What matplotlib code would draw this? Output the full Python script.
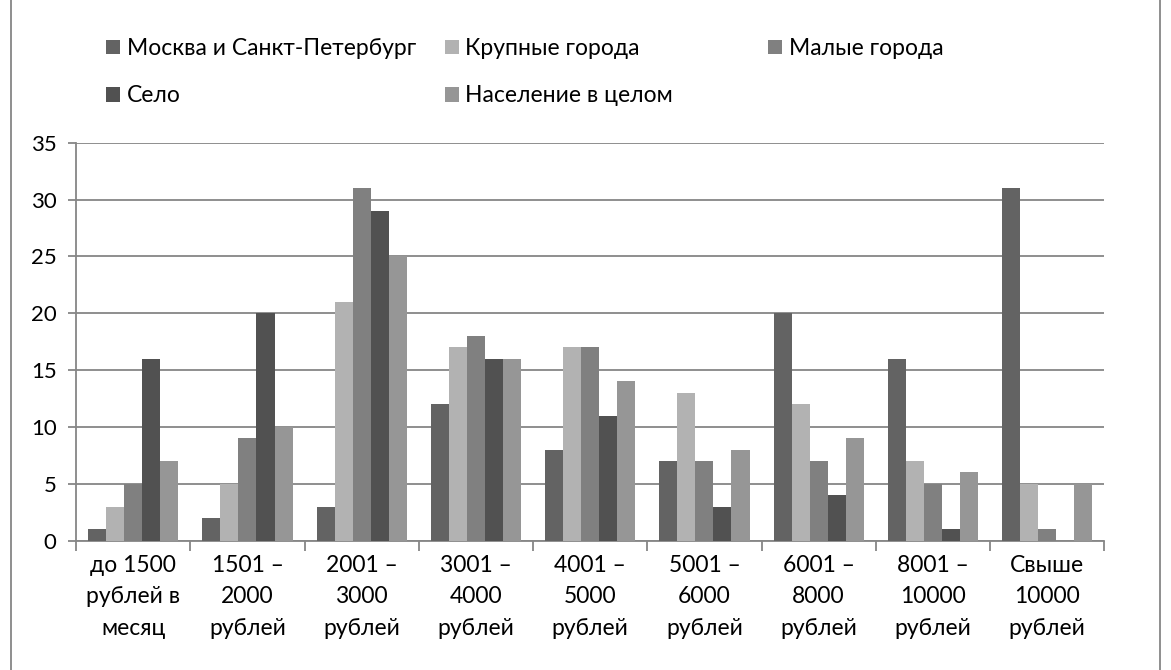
import numpy as np
import matplotlib.pyplot as plt
from matplotlib.patches import Rectangle

plt.rcParams['font.family'] = ['Lato', 'DejaVu Sans']

categories = ['до 1500\nрублей в\nмесяц', '1501 –\n2000\nрублей', '2001 –\n3000\nрублей',
              '3001 –\n4000\nрублей', '4001 –\n5000\nрублей', '5001 –\n6000\nрублей',
              '6001 –\n8000\nрублей', '8001 –\n10000\nрублей', 'Свыше\n10000\nрублей']
series_names = ['Москва и Санкт-Петербург', 'Крупные города', 'Малые города', 'Село', 'Население в целом']
moscow_spb = [1, 2, 3, 12, 8, 7, 20, 16, 31]
big_cities = [3, 5, 21, 17, 17, 13, 12, 7, 5]
small_cities = [5, 9, 31, 18, 17, 7, 7, 5, 1]
village = [16, 20, 29, 16, 11, 3, 4, 1, 0]
total = [7, 10, 25, 16, 14, 8, 9, 6, 5]
colors = ['#636363', '#b2b2b2', '#808080', '#515151', '#969696']

series = [moscow_spb, big_cities, small_cities, village, total]

fig = plt.figure(figsize=(11.71, 6.70), dpi=100)
ax = fig.add_axes([0.065, 0.193, 0.878, 0.594])

x = np.arange(len(categories))
w = 0.158
bars = []
for i, (vals, c) in enumerate(zip(series, colors)):
    b = ax.bar(x + (i - 2) * w, vals, w, color=c, zorder=3)
    bars.append(b)

ax.set_xlim(-0.5, len(categories) - 0.5)
ax.set_ylim(0, 35)
ax.set_yticks(range(0, 36, 5))
ax.grid(axis='y', color='#868686', linewidth=1.3, zorder=0)
ax.set_xticks(x)
ax.set_xticklabels(categories, fontsize=16.5, linespacing=1.62)
ax.tick_params(axis='x', length=0, pad=10)
ax.set_xticks(np.arange(-0.5, len(categories), 1), minor=True)
ax.tick_params(axis='x', which='minor', length=7, color='#868686', width=1.3)
ax.tick_params(axis='y', labelsize=16, length=6, color='#868686', width=1.3, pad=8)
for s in ['top', 'right']:
    ax.spines[s].set_visible(False)
for s in ['left', 'bottom']:
    ax.spines[s].set_color('#868686')
    ax.spines[s].set_linewidth(1.3)

# legend columns like Excel
cols = [[0, 3], [1, 4], [2]]
xpos = [0.083, 0.372, 0.648]
for xp, idx in zip(xpos, cols):
    fig.legend([bars[k] for k in idx], [series_names[k] for k in idx],
               loc='upper left', bbox_to_anchor=(xp, 0.957), frameon=False,
               fontsize=16.5, handlelength=0.6, handleheight=0.6, handletextpad=0.3,
               labelspacing=1.15, borderaxespad=0)

fig.patches.append(Rectangle((0.009, -0.01), 0.982, 1.2, transform=fig.transFigure,
                             fill=False, edgecolor='#868686', linewidth=1.3))

fig.savefig('out.png', dpi=100)
